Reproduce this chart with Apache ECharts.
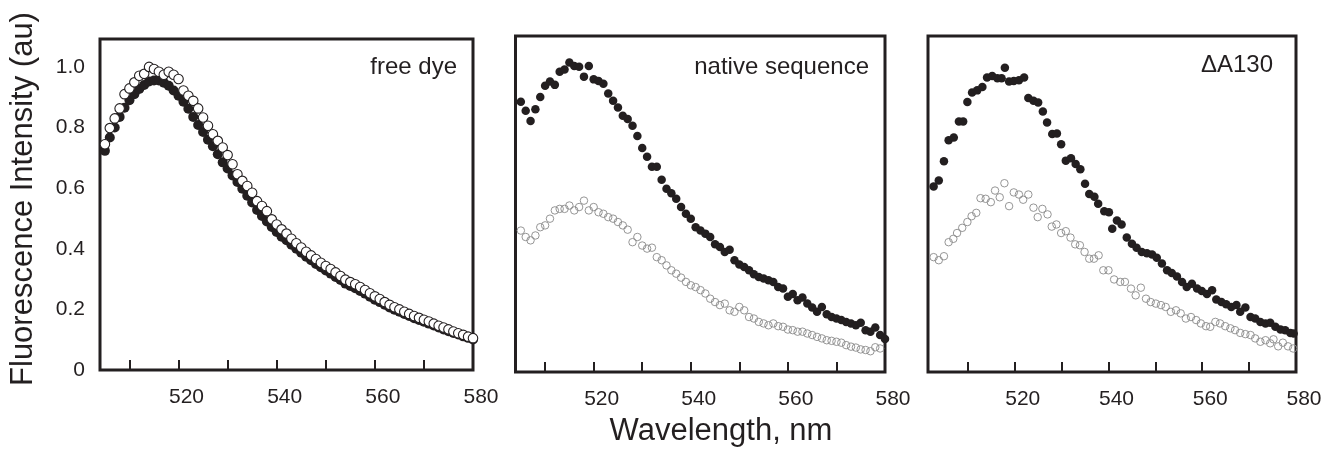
<!DOCTYPE html>
<html>
<head>
<meta charset="utf-8">
<script src="https://cdn.jsdelivr.net/npm/echarts@6/dist/echarts.min.js"></script>
<style>
  html, body { margin: 0; padding: 0; background: #ffffff; }
  #chart { width: 1331px; height: 455px; }
</style>
</head>
<body>
<div id="chart"></div>
<script>
// ---------- data ----------
const panelLabels = ['free dye', 'native sequence', '\u0394A130'];
const xTitle = 'Wavelength, nm';
const yTitle = 'Fluorescence Intensity (au)';
const xTickValues = [510, 520, 530, 540, 550, 560, 570];
const xLabelValues = [520, 540, 560, 580];
const yLabelValues = [0, 0.2, 0.4, 0.6, 0.8, 1.0];

// wavelengths (nm) for panels 1 and 2
const wlA = [505,506,507,508,509,510,511,512,513,514,515,516,517,518,519,520,521,522,523,524,
  525,526,527,528,529,530,531,532,533,534,535,536,537,538,539,540,541,542,543,544,
  545,546,547,548,549,550,551,552,553,554,555,556,557,558,559,560,561,562,563,564,
  565,566,567,568,569,570,571,572,573,574,575,576,577,578,579,580];

// panel 1: free dye
const freeFilled = [0.723,0.767,0.800,0.835,0.865,0.890,0.910,0.927,0.940,0.952,
  0.955,0.955,0.948,0.938,0.922,0.905,0.885,0.862,0.835,0.808,
  0.785,0.760,0.738,0.712,0.685,0.665,0.642,0.620,0.598,0.575,
  0.553,0.528,0.508,0.490,0.472,0.455,0.440,0.428,0.413,0.400,
  0.387,0.374,0.362,0.350,0.339,0.328,0.318,0.307,0.297,0.285,
  0.277,0.270,0.261,0.252,0.242,0.232,0.224,0.215,0.206,0.199,
  0.192,0.185,0.178,0.171,0.165,0.159,0.153,0.147,0.140,0.134,
  0.128,0.122,0.117,0.111,0.106,0.101];
const freeOpen = [0.745,0.798,0.830,0.863,0.910,0.929,0.949,0.971,0.977,1.000,
  0.993,0.984,0.974,0.984,0.974,0.960,0.922,0.905,0.888,0.863,
  0.833,0.806,0.778,0.756,0.734,0.709,0.679,0.646,0.624,0.607,
  0.585,0.557,0.541,0.524,0.497,0.480,0.464,0.450,0.433,0.418,
  0.404,0.390,0.378,0.366,0.354,0.343,0.333,0.322,0.310,0.298,
  0.290,0.283,0.274,0.264,0.253,0.243,0.234,0.224,0.215,0.207,
  0.200,0.192,0.185,0.178,0.172,0.166,0.160,0.153,0.146,0.140,
  0.134,0.127,0.121,0.116,0.110,0.105];

// panel 2: native sequence
const nativeFilled = [0.885,0.855,0.822,0.860,0.900,0.937,0.951,0.940,0.983,0.990,
  1.013,1.002,0.999,0.967,1.002,0.958,0.953,0.944,0.912,0.888,
  0.866,0.839,0.828,0.806,0.773,0.733,0.705,0.672,0.672,0.629,
  0.600,0.585,0.567,0.540,0.518,0.502,0.474,0.463,0.453,0.442,
  0.418,0.409,0.393,0.400,0.366,0.352,0.344,0.333,0.320,0.311,
  0.306,0.300,0.295,0.278,0.273,0.246,0.255,0.235,0.244,0.224,
  0.211,0.197,0.213,0.189,0.180,0.175,0.170,0.164,0.159,0.153,
  0.161,0.137,0.132,0.146,0.121,0.108];
const nativeOpen = [0.463,0.442,0.431,0.447,0.474,0.480,0.502,0.529,0.534,0.534,
  0.545,0.529,0.540,0.561,0.529,0.540,0.523,0.518,0.507,0.502,
  0.491,0.480,0.466,0.425,0.442,0.414,0.404,0.407,0.376,0.366,
  0.349,0.333,0.322,0.309,0.295,0.284,0.278,0.268,0.257,0.240,
  0.229,0.219,0.224,0.202,0.197,0.213,0.202,0.180,0.175,0.164,
  0.159,0.153,0.159,0.150,0.148,0.139,0.137,0.132,0.132,0.126,
  0.121,0.115,0.110,0.104,0.102,0.099,0.096,0.088,0.083,0.080,
  0.074,0.072,0.068,0.081,0.077];

// panel 3: deltaA130
const wl3Filled = [502.7,503.8,504.9,505.9,507.0,508.1,509.0,509.9,510.9,512.0,
  513.1,514.1,515.2,516.3,517.2,517.9,518.8,519.8,520.9,522.0,
  522.9,524.0,525.0,526.0,526.9,528.0,529.0,529.9,530.9,532.0,
  533.0,534.0,535.0,535.9,537.0,537.8,539.1,540.1,540.8,541.8,
  542.8,543.9,545.0,546.0,547.1,548.2,549.3,550.3,551.4,552.5,
  553.5,554.6,555.7,556.7,557.8,558.9,559.9,561.0,562.1,563.0,
  564.1,565.1,566.2,567.3,568.1,569.2,570.3,571.3,572.4,573.5,
  574.5,575.6,576.7,577.7,578.8,579.5];
const dA130Filled = [0.607,0.627,0.690,0.759,0.768,0.820,0.820,0.884,0.915,0.922,
  0.933,0.964,0.969,0.962,0.962,0.996,0.951,0.953,0.955,0.964,
  0.897,0.888,0.882,0.853,0.817,0.779,0.781,0.746,0.692,0.700,
  0.681,0.664,0.616,0.583,0.574,0.551,0.526,0.523,0.469,0.496,
  0.483,0.440,0.420,0.407,0.393,0.389,0.385,0.374,0.355,0.333,
  0.324,0.313,0.295,0.278,0.289,0.273,0.265,0.255,0.268,0.237,
  0.229,0.222,0.213,0.219,0.197,0.211,0.180,0.175,0.164,0.159,
  0.161,0.148,0.139,0.137,0.128,0.126];
const wl3Open = [502.7,503.8,504.9,505.9,506.9,507.7,508.8,509.9,510.8,511.8,
  512.7,513.8,514.9,515.8,516.8,517.8,518.8,519.8,520.9,521.8,
  522.9,524.0,524.9,525.9,527.0,527.9,528.9,529.9,530.9,531.9,
  532.9,533.9,534.9,535.9,536.9,537.9,538.9,540.0,541.2,542.5,
  543.5,544.8,545.8,546.9,548.0,549.0,550.1,551.2,552.2,553.3,
  554.4,555.4,556.5,557.6,558.7,559.7,560.8,561.7,562.8,563.8,
  564.9,566.0,567.0,568.1,569.2,570.3,571.3,572.4,573.5,574.5,
  575.2,576.2,577.2,578.3,579.4];
const dA130Open = [0.376,0.366,0.379,0.425,0.436,0.455,0.472,0.491,0.510,0.521,
  0.569,0.567,0.556,0.594,0.572,0.618,0.543,0.588,0.581,0.564,
  0.581,0.538,0.507,0.534,0.516,0.476,0.483,0.455,0.461,0.440,
  0.418,0.415,0.393,0.371,0.371,0.382,0.333,0.333,0.303,0.295,
  0.295,0.273,0.251,0.276,0.240,0.229,0.224,0.219,0.213,0.197,
  0.202,0.192,0.175,0.180,0.170,0.159,0.150,0.148,0.164,0.159,
  0.150,0.143,0.137,0.128,0.124,0.121,0.110,0.099,0.104,0.094,
  0.107,0.084,0.096,0.084,0.077];

// ---------- layout & style ----------
const FONT = '"Liberation Sans", Arial, Helvetica, sans-serif';
const INK = '#231f20';
const GREY = '#8a8a8a';

const grids = [
  { left: 100, top: 39, width: 373, height: 331 },
  { left: 515.5, top: 36, width: 369.5, height: 336 },
  { left: 928, top: 36, width: 368, height: 336 }
];
const xMins = [504.0, 503.9, 501.5];
const yMaxs = [1.092, 1.1, 1.1];

function pairs(xs, ys) { return ys.map((v, i) => [xs[i], v]); }

const seriesData = [
  { filled: pairs(wlA, freeFilled), open: pairs(wlA, freeOpen) },
  { filled: pairs(wlA, nativeFilled), open: pairs(wlA, nativeOpen) },
  { filled: pairs(wl3Filled, dA130Filled), open: pairs(wl3Open, dA130Open) }
];

const option = {
  animation: false,
  backgroundColor: '#ffffff',
  grid: grids.map(g => Object.assign({
    show: true, borderColor: INK, borderWidth: 3, backgroundColor: 'transparent', containLabel: false
  }, g)),
  xAxis: grids.map((g, i) => ({
    gridIndex: i, type: 'value', min: xMins[i], max: 580,
    axisLine: { show: false },
    splitLine: { show: false },
    axisTick: { show: true, inside: true, length: 10, customValues: xTickValues,
      lineStyle: { color: INK, width: 2 } },
    axisLabel: { show: true, customValues: xLabelValues, margin: 17, fontSize: 21,
      color: INK, fontFamily: FONT, padding: [0, 0, 0, 16] }
  })),
  yAxis: grids.map((g, i) => ({
    gridIndex: i, type: 'value', min: 0, max: yMaxs[i],
    axisLine: { show: false },
    splitLine: { show: false },
    axisTick: { show: false },
    axisLabel: { show: i === 0, customValues: yLabelValues, margin: 15, fontSize: 21,
      color: INK, fontFamily: FONT,
      formatter: v => (v === 0 ? '0' : v.toFixed(1)) }
  })),
  series: [],
  graphic: [
    { type: 'text', x: 23, y: 199, rotation: Math.PI / 2, silent: true,
      style: { text: yTitle, fill: INK, font: '31px ' + FONT, align: 'center', verticalAlign: 'middle' } },
    { type: 'text', x: 721, y: 431, silent: true,
      style: { text: xTitle, fill: INK, font: '31px ' + FONT, align: 'center', verticalAlign: 'middle' } },
    { type: 'text', x: 457, y: 67, silent: true,
      style: { text: panelLabels[0], fill: INK, font: '24px ' + FONT, align: 'right', verticalAlign: 'middle' } },
    { type: 'text', x: 869, y: 67, silent: true,
      style: { text: panelLabels[1], fill: INK, font: '24px ' + FONT, align: 'right', verticalAlign: 'middle' } },
    { type: 'text', x: 1273, y: 65, silent: true,
      style: { text: panelLabels[2], fill: INK, font: '24px ' + FONT, align: 'right', verticalAlign: 'middle' } }
  ]
};

seriesData.forEach((d, i) => {
  const big = i === 0;
  option.series.push({
    type: 'scatter', xAxisIndex: i, yAxisIndex: i, silent: true, clip: true,
    symbol: 'circle', symbolSize: big ? 10 : 8.5,
    itemStyle: { color: INK, borderColor: INK, borderWidth: 0, opacity: 1 },
    data: d.filled
  });
  option.series.push({
    type: 'scatter', xAxisIndex: i, yAxisIndex: i, silent: true, clip: true,
    symbol: 'circle', symbolSize: big ? 9.5 : 7.5,
    itemStyle: big
      ? { color: '#ffffff', borderColor: INK, borderWidth: 1.1, opacity: 1 }
      : { color: 'rgba(255,255,255,0)', borderColor: GREY, borderWidth: 0.9, opacity: 1 },
    data: d.open
  });
});

const chart = echarts.init(document.getElementById('chart'), null, { renderer: 'canvas' });
chart.setOption(option);
</script>
</body>
</html>
